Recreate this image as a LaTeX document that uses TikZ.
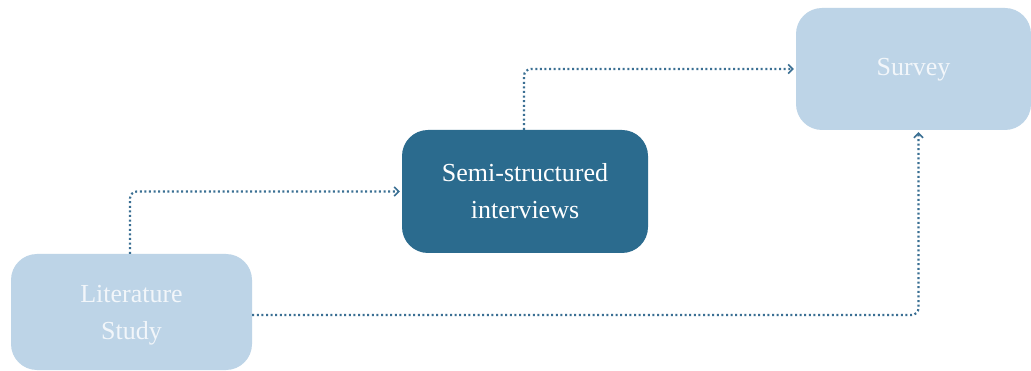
\documentclass[tikz,border=0pt]{standalone}
\usepackage{fontspec}
\setmainfont{Liberation Serif}
\usetikzlibrary{arrows.meta}
\definecolor{boxdark}{HTML}{2B6B8E}
\definecolor{boxlight}{HTML}{BDD4E7}
\definecolor{flow}{HTML}{3A6F93}
\definecolor{paletext}{HTML}{F2F6FA}
\tikzset{
  labelfont/.style={font=\fontsize{26}{37}\selectfont, align=center},
  stage/.style={rectangle, rounded corners=26pt, labelfont, inner sep=0pt},
  lightstage/.style={stage, fill=boxlight, text=paletext},
  darkstage/.style={stage, fill=boxdark, text=white},
  conn/.style={draw=flow, line width=2.2pt, dash pattern=on 2pt off 2.6pt,
    rounded corners=7pt, -{Straight Barb[length=4.5pt,width=9pt,line width=1.6pt]}}
}
\begin{document}
\begin{tikzpicture}[x=1pt,y=-1pt]
\useasboundingbox (0,0) rectangle (1031,371);
\fill[white] (0,0) rectangle (1031,371);
\node[lightstage, minimum width=241pt, minimum height=116pt] (lit) at (131.5,312) {};
\node[labelfont, text=paletext, inner sep=0pt] (littext) at ([yshift=-3.5pt]lit.center) {Literature\\Study};
\node[darkstage, minimum width=246pt, minimum height=123pt] (semi) at (525,191.5) {Semi-structured\\interviews};
\node[lightstage, minimum width=235pt, minimum height=122pt] (survey) at (913.5,69) {};
\node[labelfont, text=paletext, inner sep=0pt] (surveytext) at ([yshift=-1pt]survey.center) {Survey};
\draw[conn] ([xshift=-1.5pt]lit.north) |- ([xshift=-2pt]semi.west);
\draw[conn] ([xshift=-1pt]semi.north) |- ([xshift=-2pt]survey.west);
\draw[conn] ([yshift=-3pt]lit.east) -| ([xshift=5pt,yshift=-2pt]survey.south);
\end{tikzpicture}
\end{document}
